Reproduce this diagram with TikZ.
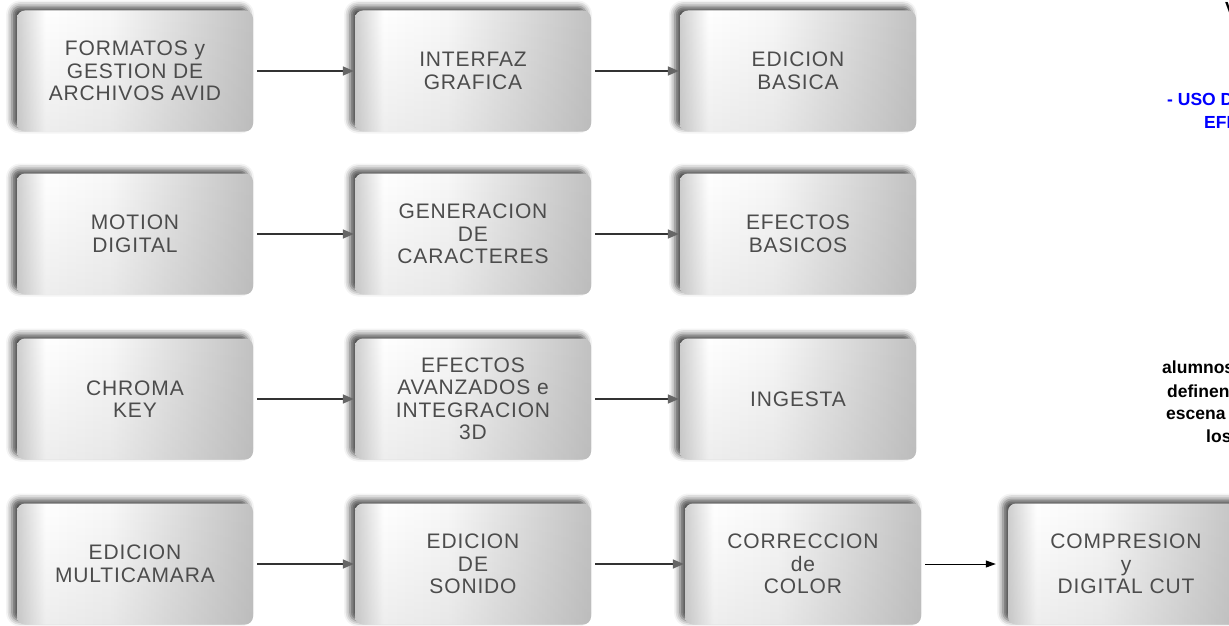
\documentclass[tikz,border=0pt]{standalone}
\usepackage{fontspec}
\setmainfont{Liberation Sans}
\newfontfamily\boxfont[LetterSpace=4]{Liberation Sans}
\usepackage{xcolor}
\usepackage{tikz}
\usetikzlibrary{arrows.meta,shadows.blur,fadings}

\pgfdeclarehorizontalshading{boxshade}{100bp}{color(0bp)=(gray!38); color(25bp)=(gray!38); color(31bp)=(white); color(45bp)=(gray!6); color(75bp)=(gray!48); color(100bp)=(gray!48)}
\tikzfading[name=fadebottom, top color=transparent!100, bottom color=transparent!45]

\begin{document}
\begin{tikzpicture}[x=1pt, y=1pt,
    course/.style={rounded corners=8pt, minimum width=236pt, minimum height=121pt, inner sep=0pt,
      shading=boxshade, postaction={fill=gray!70, fill opacity=0.35, path fading=fadebottom},
      blur shadow={shadow xshift=-5pt, shadow yshift=4pt, shadow blur radius=6pt, shadow opacity=70},
      align=center, text=black!70, font=\boxfont\fontsize{21}{22.5}\selectfont},
    link/.style={draw=black!80, line width=1.6pt, -{Triangle[length=11pt, width=9pt, color=black!60]}, shorten <=4pt, shorten >=1pt},
    thinlink/.style={draw=black, line width=1pt, -{Triangle[length=10pt, width=7pt]}, shorten <=4pt, shorten >=12pt},
    note/.style={anchor=base west, inner sep=0pt, font=\bfseries\fontsize{17.5}{20}\selectfont}]
  \useasboundingbox (0,0) rectangle (1229,-626);

  \node[course] (Box-1-1) at (135,-71) {FORMATOS y\\GESTION DE\\ARCHIVOS AVID};  % Row 1
  \node[course] (Box-1-2) at (473,-71) {INTERFAZ\\GRAFICA};
  \node[course] (Box-1-3) at (798,-71) {EDICION\\BASICA};

  \node[course] (Box-2-1) at (135,-234) {MOTION\\DIGITAL};  % Row 2
  \node[course] (Box-2-2) at (473,-234) {GENERACION\\DE\\CARACTERES};
  \node[course] (Box-2-3) at (798,-234) {EFECTOS\\BASICOS};

  \node[course] (Box-3-1) at (135,-399) {CHROMA\\KEY};  % Row 3
  \node[course] (Box-3-2) at (473,-399) {EFECTOS\\AVANZADOS e\\INTEGRACION\\3D};
  \node[course] (Box-3-3) at (798,-399) {INGESTA};

  \node[course] (Box-4-1) at (135,-564) {EDICION\\MULTICAMARA};  % Row 4
  \node[course] (Box-4-2) at (473,-564) {EDICION\\DE\\SONIDO};
  \node[course] (Box-4-3) at (803,-564) {CORRECCION\\de\\COLOR};
  \node[course] (Box-4-4) at (1126,-564) {COMPRESION\\y\\DIGITAL CUT};

  \foreach \r in {1,2,3,4} {
    \draw[link] (Box-\r-1) -- (Box-\r-2);  % Connect boxes
    \draw[link] (Box-\r-2) -- (Box-\r-3);
  }
  \draw[thinlink] (Box-4-3) -- (Box-4-4);

  \node[note] (Note-V) at (1225,-15) {V};  % Notes at the right edge
  \node[note, text=blue] (Note-Uso) at (1167,-106) {- USO D};
  \node[note, text=blue] (Note-Efi) at (1204,-128) {EFI};
  \node[note] (Note-Alumnos) at (1162,-373) {alumnos};
  \node[note] (Note-Definen) at (1167,-397) {definen};
  \node[note] (Note-Escena) at (1166,-419) {escena};
  \node[note] (Note-Los) at (1206,-442) {los};
\end{tikzpicture}
\end{document}
